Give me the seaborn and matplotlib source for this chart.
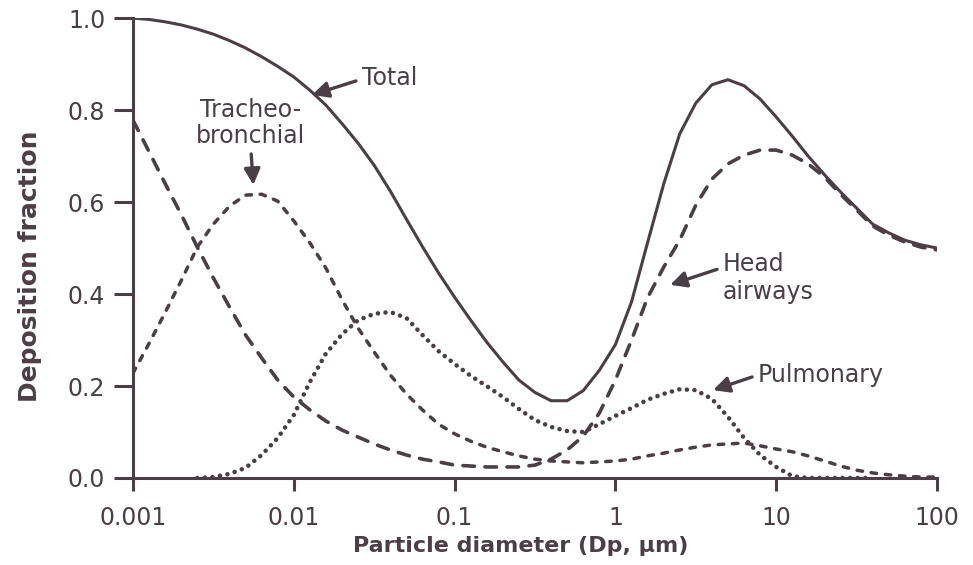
# Regional deposition fraction vs particle diameter (ICRP-type lung model)

import numpy as np
import pandas as pd
import seaborn as sns
import matplotlib.pyplot as plt
from matplotlib.ticker import FixedLocator, FixedFormatter, NullLocator

# Particle diameters (um), ten readings per decade off the log axis
diameter = [0.001, 0.00126, 0.00158, 0.002, 0.00251, 0.00316, 0.00398, 0.00501, 0.00631, 0.00794,
            0.01, 0.0126, 0.0158, 0.02, 0.0251, 0.0316, 0.0398, 0.0501, 0.0631, 0.0794,
            0.1, 0.126, 0.158, 0.2, 0.251, 0.316, 0.398, 0.501, 0.631, 0.794,
            1, 1.26, 1.58, 2, 2.51, 3.16, 3.98, 5.01, 6.31, 7.94,
            10, 12.6, 15.8, 20, 25.1, 31.6, 39.8, 50.1, 63.1, 79.4,
            100]

total = [1.000, 0.997, 0.992, 0.985, 0.976, 0.965, 0.951, 0.935, 0.916, 0.895,
         0.872, 0.843, 0.811, 0.770, 0.728, 0.680, 0.624, 0.563, 0.503, 0.446,
         0.393, 0.343, 0.296, 0.252, 0.213, 0.186, 0.168, 0.168, 0.190, 0.234,
         0.290, 0.383, 0.510, 0.640, 0.748, 0.815, 0.855, 0.866, 0.853, 0.824,
         0.785, 0.743, 0.700, 0.659, 0.622, 0.587, 0.552, 0.533, 0.517, 0.507,
         0.500]

head_airways = [0.778, 0.709, 0.641, 0.572, 0.502, 0.435, 0.372, 0.311, 0.261, 0.213,
                0.176, 0.148, 0.124, 0.104, 0.089, 0.074, 0.061, 0.050, 0.041, 0.035,
                0.028, 0.026, 0.024, 0.024, 0.024, 0.028, 0.041, 0.061, 0.091, 0.141,
                0.213, 0.300, 0.391, 0.459, 0.517, 0.593, 0.650, 0.683, 0.702, 0.713,
                0.713, 0.702, 0.683, 0.654, 0.617, 0.583, 0.548, 0.528, 0.513, 0.502,
                0.496]

tracheobronchial = [0.228, 0.293, 0.359, 0.430, 0.502, 0.552, 0.591, 0.615, 0.617, 0.602,
                    0.559, 0.511, 0.457, 0.387, 0.326, 0.274, 0.224, 0.183, 0.148, 0.117,
                    0.096, 0.080, 0.067, 0.057, 0.048, 0.041, 0.037, 0.035, 0.033, 0.035,
                    0.037, 0.041, 0.048, 0.054, 0.061, 0.067, 0.072, 0.074, 0.076, 0.070,
                    0.063, 0.057, 0.048, 0.037, 0.026, 0.017, 0.011, 0.007, 0.004, 0.002,
                    0.002]

# the dotted curve is hidden under the axis line at both ends
pulmonary = [None, None, None, None, 0.000, 0.002, 0.009, 0.022, 0.050, 0.087,
             0.137, 0.209, 0.270, 0.313, 0.343, 0.357, 0.361, 0.348, 0.311, 0.276,
             0.248, 0.222, 0.200, 0.176, 0.150, 0.126, 0.111, 0.102, 0.100, 0.117,
             0.135, 0.152, 0.170, 0.183, 0.193, 0.191, 0.172, 0.133, 0.087, 0.050,
             0.024, 0.004, 0.000, 0.000, 0.000, 0.000, 0.000, None, None, None,
             None]

tick_values = [0.001, 0.01, 0.1, 1, 10, 100]
tick_labels = ["0.001", "0.01", "0.1", "1", "10", "100"]

ink = "#4a3f46"

df = pd.DataFrame({"diameter": diameter, "total": total,
                   "head": head_airways, "tb": tracheobronchial,
                   "pulm": np.array(pulmonary, dtype=float)})

sns.set_theme(style="white")
plt.rcParams["font.family"] = ["DejaVu Sans"]

fig = plt.figure(figsize=(9.73, 5.65), dpi=100)
ax = fig.add_axes([0.1367, 0.154, 0.8263, 0.814])

sns.lineplot(data=df, x="diameter", y="total", ax=ax, color=ink, lw=2.2,
             solid_capstyle="round", solid_joinstyle="round")
sns.lineplot(data=df, x="diameter", y="head", ax=ax, color=ink, lw=2.6,
             linestyle=(0, (3.2, 2.9)), dash_capstyle="round")
sns.lineplot(data=df, x="diameter", y="tb", ax=ax, color=ink, lw=2.5,
             linestyle=(0, (1.6, 2.5)), dash_capstyle="round")
sns.lineplot(data=df, x="diameter", y="pulm", ax=ax, color=ink, lw=3.3,
             linestyle=(0, (0.01, 1.65)), dash_capstyle="round")

ax.set_xscale("log")
ax.set_xlim(0.001, 100)
ax.set_ylim(0, 1.0)

ax.xaxis.set_major_locator(FixedLocator(tick_values))
ax.xaxis.set_major_formatter(FixedFormatter(tick_labels))
ax.xaxis.set_minor_locator(NullLocator())
ax.set_yticks([0.0, 0.2, 0.4, 0.6, 0.8, 1.0])
ax.set_yticklabels(["0.0", "0.2", "0.4", "0.6", "0.8", "1.0"])

sns.despine(ax=ax)
for side in ["left", "bottom"]:
    ax.spines[side].set_color(ink)
    ax.spines[side].set_linewidth(2.2)

ax.tick_params(axis="x", direction="out", length=9, width=2.2, color=ink,
               labelcolor=ink, labelsize=17, pad=11, bottom=True)
ax.tick_params(axis="y", direction="out", length=14, width=2.2, color=ink,
               labelcolor=ink, labelsize=17, pad=6, left=True)

ax.set_xlabel("Particle diameter (Dp, \u00b5m)", fontsize=16, fontweight="bold",
              color=ink)
ax.set_ylabel("Deposition fraction", fontsize=18, fontweight="bold", color=ink)
ax.xaxis.set_label_coords(0.482, -0.126)
ax.yaxis.set_label_coords(-0.113, 0.46)

arrow = dict(arrowstyle="-|>", color=ink, lw=2.4, mutation_scale=24,
             shrinkA=2, shrinkB=0)

ax.annotate("Total", xy=(0.013, 0.833), xytext=(0.0265, 0.87),
            fontsize=17, color=ink, ha="left", va="center",
            arrowprops=dict(arrow, relpos=(0, 0.45)))
ax.annotate("Tracheo-\nbronchial", xy=(0.0056, 0.637), xytext=(0.0054, 0.772),
            fontsize=17, color=ink, ha="center", va="center",
            multialignment="center", linespacing=1.1,
            arrowprops=dict(arrow, relpos=(0.5, 0)))
ax.annotate("Head\nairways", xy=(2.19, 0.42), xytext=(4.67, 0.435),
            fontsize=17, color=ink, ha="left", va="center", linespacing=1.25,
            arrowprops=dict(arrow, relpos=(0, 0.7)))
ax.annotate("Pulmonary", xy=(4.05, 0.191), xytext=(7.71, 0.224),
            fontsize=17, color=ink, ha="left", va="center",
            arrowprops=dict(arrow, relpos=(0, 0.5)))

plt.savefig("out.png", dpi=100)
